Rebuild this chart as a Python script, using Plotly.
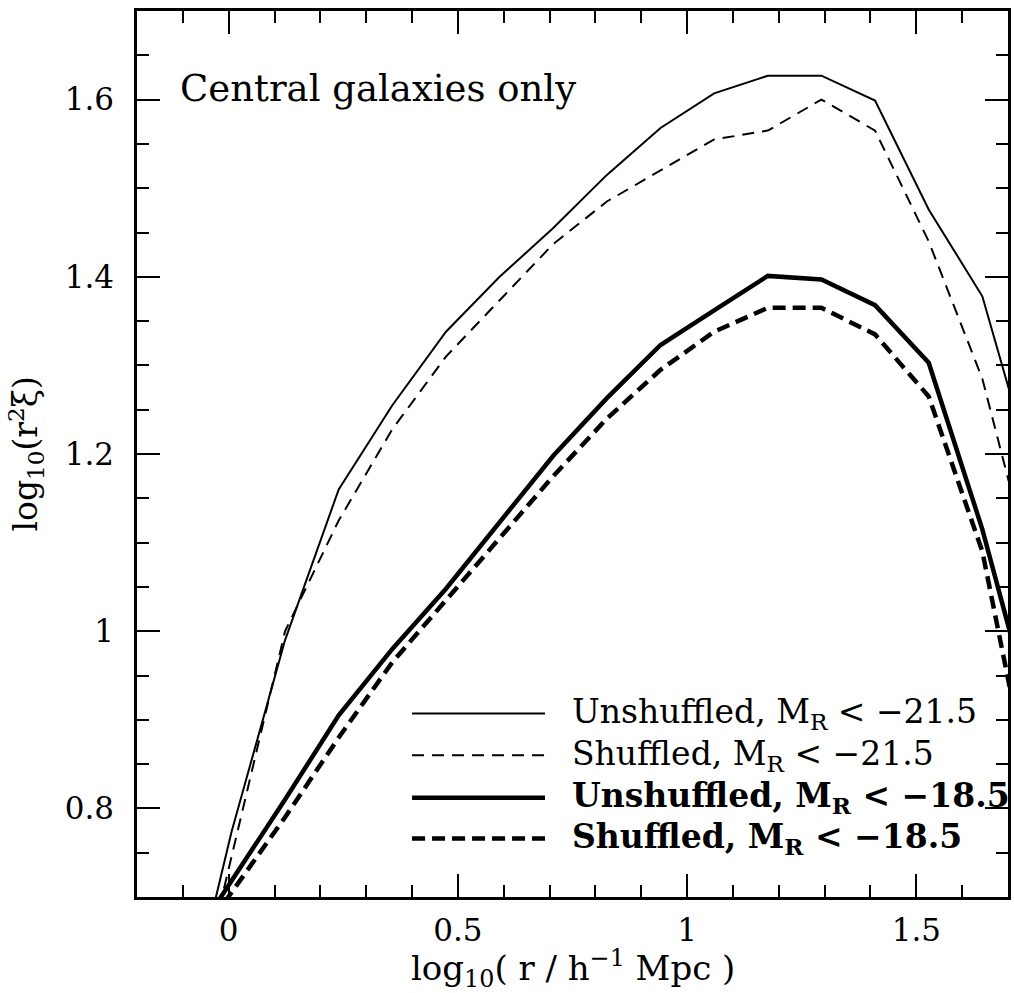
import plotly.graph_objects as go

# log10(r / h^-1 Mpc) bin centres
log_r = [-0.111, 0.006, 0.123, 0.240, 0.357, 0.474, 0.591, 0.708, 0.825,
         0.942, 1.059, 1.176, 1.293, 1.410, 1.527, 1.644, 1.761]

unshuffled_215 = [0.52, 0.773, 0.99, 1.16, 1.255, 1.338, 1.40, 1.455, 1.515,
                  1.568, 1.607, 1.627, 1.627, 1.599, 1.476, 1.378, 1.167]
shuffled_215 = [0.49, 0.745, 1.00, 1.125, 1.228, 1.31, 1.373, 1.437, 1.485,
                1.52, 1.555, 1.565, 1.600, 1.565, 1.44, 1.285, 1.05]
unshuffled_185 = [0.626, 0.718, 0.81, 0.905, 0.98, 1.048, 1.124, 1.198, 1.263,
                  1.323, 1.362, 1.401, 1.397, 1.368, 1.303, 1.115, 0.89]
shuffled_185 = [0.62, 0.705, 0.79, 0.88, 0.965, 1.035, 1.105, 1.175, 1.24,
                1.295, 1.338, 1.365, 1.365, 1.335, 1.265, 1.09, 0.79]

legend_labels = ["Unshuffled, M<sub>R</sub> &lt; −21.5",
                 "Shuffled, M<sub>R</sub> &lt; −21.5",
                 "<b>Unshuffled, M<sub>R</sub> &lt; −18.5</b>",
                 "<b>Shuffled, M<sub>R</sub> &lt; −18.5</b>"]

FONT = "DejaVu Serif"
styles = [dict(width=2, dash="solid"),
          dict(width=2, dash="12px,8px"),
          dict(width=4.5, dash="solid"),
          dict(width=4.5, dash="13px,7px")]
series = [unshuffled_215, shuffled_215, unshuffled_185, shuffled_185]

fig = go.Figure()
for ys, st, lab in zip(series, styles, legend_labels):
    fig.add_trace(go.Scatter(x=log_r, y=ys, mode="lines",
                             line=dict(color="black", width=st["width"], dash=st["dash"]),
                             name=lab, showlegend=False, cliponaxis=True))

# legend drawn inside plot
leg_y = [0.907, 0.860, 0.812, 0.766]
for yv, st, lab in zip(leg_y, styles, legend_labels):
    fig.add_shape(type="line", x0=0.40, x1=0.69, y0=yv, y1=yv, xref="x", yref="y",
                  line=dict(color="black", width=st["width"], dash=st["dash"]))
    fig.add_annotation(x=0.745, y=yv, xref="x", yref="y", text=lab, showarrow=False,
                       xanchor="left", yanchor="middle",
                       font=dict(family=FONT, size=33, color="black"))

fig.add_annotation(x=-0.11, y=1.613, xref="x", yref="y", text="Central galaxies only",
                   showarrow=False, xanchor="left", yanchor="middle",
                   font=dict(family=FONT, size=37, color="black"))

fig.add_annotation(x=0.5, y=-0.081, xref="paper", yref="paper",
                   text="log<sub>10</sub>( r / h<sup>−1</sup> Mpc )", showarrow=False,
                   xanchor="center", yanchor="middle",
                   font=dict(family=FONT, size=34, color="black"))
fig.add_annotation(x=-0.128, y=0.5, xref="paper", yref="paper",
                   text="log<sub>10</sub>(r<sup>2</sup>ξ)", showarrow=False, textangle=-90,
                   xanchor="center", yanchor="middle",
                   font=dict(family=FONT, size=33, color="black"))

axis_common = dict(showgrid=False, zeroline=False, showline=True, linecolor="black",
                   linewidth=2.5, mirror="allticks", ticks="inside", tickcolor="black",
                   tickwidth=2, ticklen=23,
                   tickfont=dict(family=FONT, size=31, color="black"))
fig.update_xaxes(range=[-0.2, 1.7], tick0=0, dtick=0.5, ticklabelstandoff=4,
                 minor=dict(dtick=0.1, tick0=0, ticklen=12, tickwidth=2, ticks="inside",
                            tickcolor="black"),
                 **axis_common)
fig.update_yaxes(range=[0.7, 1.7], tick0=0, dtick=0.2, ticklabelstandoff=14,
                 minor=dict(dtick=0.05, tick0=0, ticklen=12, tickwidth=2, ticks="inside",
                            tickcolor="black"),
                 **axis_common)

fig.update_layout(width=1014, height=993, autosize=False,
                  margin=dict(l=137, r=3, t=11, b=96),
                  paper_bgcolor="white", plot_bgcolor="white")

fig.write_html("out.html", config={"displayModeBar": False},
               post_script="document.body.style.margin='0px';"
                           "document.body.style.overflow='hidden';")
